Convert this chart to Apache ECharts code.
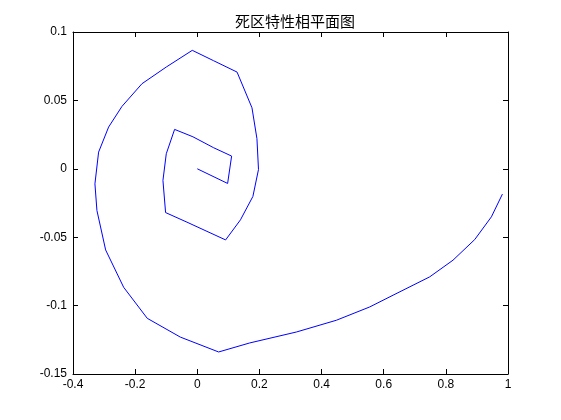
<!DOCTYPE html>
<html><head><meta charset="utf-8">
<script src="https://cdn.jsdelivr.net/npm/echarts@6/dist/echarts.min.js"></script>
<style>html,body{margin:0;padding:0;background:#fff}#c{width:561px;height:420px}</style>
</head><body><div id="c"></div>
<script>
var titleText = '死区特性相平面图';
var xTicks = [-0.4, -0.2, 0, 0.2, 0.4, 0.6, 0.8, 1];
var yTicks = [-0.15, -0.1, -0.05, 0, 0.05, 0.1];
var phaseX = [0, 0.0976, 0.1105, 0.0526, -0.014, -0.073, -0.0998, -0.1105, -0.102, -0.0333, 0.0912, 0.139, 0.179, 0.197, 0.192, 0.176, 0.128, 0.0526, -0.0161, -0.0998, -0.178, -0.2425, -0.2854, -0.3176, -0.3294, -0.323, -0.295, -0.237, -0.161, -0.0547, 0.0687, 0.1687, 0.319, 0.4477, 0.5549, 0.630, 0.748, 0.823, 0.893, 0.9466, 0.982];
var phaseY = [0, -0.0107, 0.0093, 0.0154, 0.0234, 0.0288, 0.011, -0.0085, -0.032, -0.039, -0.052, -0.0373, -0.0202, -0.0005, 0.022, 0.0446, 0.0707, 0.079, 0.0866, 0.0744, 0.0622, 0.0456, 0.0305, 0.0122, -0.011, -0.0305, -0.0593, -0.0866, -0.1093, -0.123, -0.1339, -0.1273, -0.1193, -0.1107, -0.101, -0.0924, -0.079, -0.0668, -0.0517, -0.0351, -0.0185];

var pts = phaseX.map(function(x, i){ return [x, phaseY[i]]; });
function fmt(v){ return String(Math.round(v*1000)/1000); }
var lbl = {color:'#000', fontFamily:'Liberation Sans, Arial, sans-serif', fontSize:12};
var axLine = {show:true, onZero:false, lineStyle:{color:'#000', width:1}};
var tick = {show:true, inside:true, length:5, lineStyle:{color:'#000'}};
function xa(pos, show){ return {type:'value', position:pos, min:xTicks[0], max:xTicks[xTicks.length-1], interval:0.2,
  axisLine:axLine, axisTick:tick, splitLine:{show:false},
  axisLabel: show ? Object.assign({formatter:fmt, margin:5}, lbl) : {show:false}}; }
function ya(pos, show){ return {type:'value', position:pos, min:yTicks[0], max:yTicks[yTicks.length-1], interval:0.05,
  axisLine:axLine, axisTick:tick, splitLine:{show:false},
  axisLabel: show ? Object.assign({formatter:fmt, margin:6}, lbl) : {show:false}}; }
var chart = echarts.init(document.getElementById('c'), null, {renderer:'canvas'});
chart.setOption({
  animation:false,
  backgroundColor:'#fff',
  title:{text:titleText, left:290, top:9, textAlign:'center',
    textStyle:{fontFamily:'Noto Sans CJK SC', fontSize:15, fontWeight:'normal', color:'#000'}},
  grid:{left:73, right:53, top:32, bottom:46},
  xAxis:[xa('bottom', true), xa('top', false)],
  yAxis:[ya('left', true), ya('right', false)],
  series:[{type:'line', data:pts, showSymbol:false, symbol:'none', smooth:false,
    lineStyle:{color:'#0000ff', width:1}, xAxisIndex:0, yAxisIndex:0}]
});
</script></body></html>
